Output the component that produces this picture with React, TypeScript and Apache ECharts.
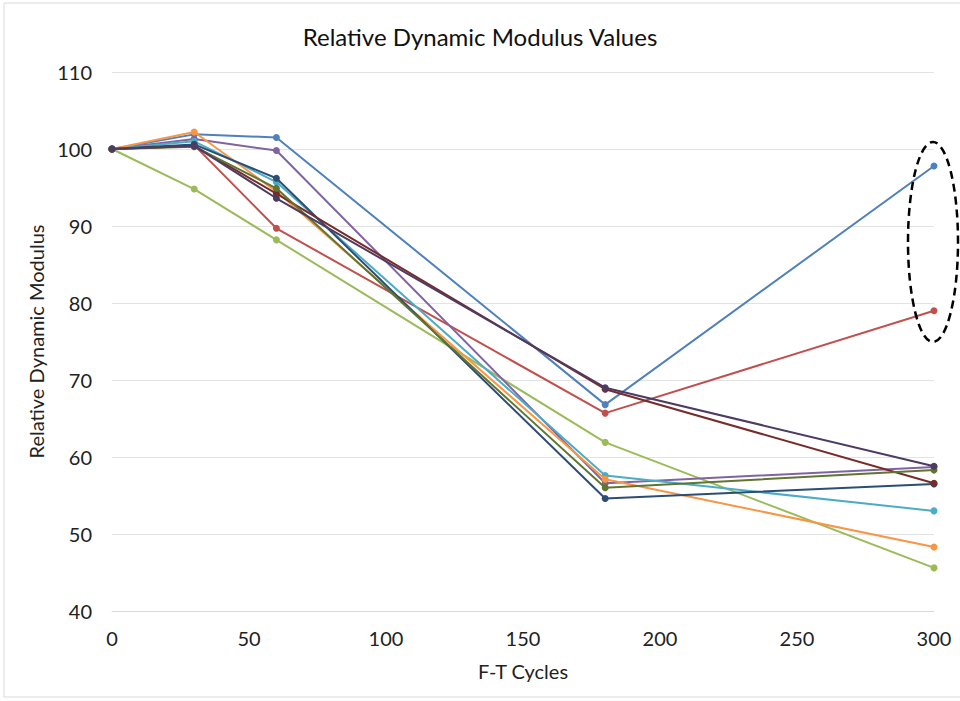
import React, { useEffect, useRef } from "react";
import * as echarts from "echarts";

const cycles = [0, 30, 60, 180, 300];
const seriesNames = ["S1", "S2", "S3", "S4", "S5", "S6", "S7", "S8", "S9", "S10"];
const blue = [100, 101.9, 101.5, 66.8, 97.8];
const red = [100, 100.5, 89.7, 65.7, 79.0];
const green = [100, 94.8, 88.2, 61.9, 45.6];
const purple = [100, 101.3, 99.8, 56.6, 58.7];
const aqua = [100, 101.0, 95.7, 57.6, 53.0];
const orange = [100, 102.2, 94.5, 57.1, 48.3];
const darkBlue = [100, 100.6, 96.2, 54.6, 56.5];
const darkRed = [100, 100.4, 94.2, 68.8, 56.6];
const darkGreen = [100, 100.3, 94.9, 56.0, 58.3];
const darkPurple = [100, 100.4, 93.6, 69.0, 58.8];
const allValues = [blue, red, green, purple, aqua, orange, darkBlue, darkRed, darkGreen, darkPurple];
const colors = ["#4F81BD", "#C0504D", "#9BBB59", "#8064A2", "#4BACC6", "#F79646", "#2C4D75", "#772C2A", "#5F7530", "#4D3B62"];

const FONT = "Lato, 'Open Sans', sans-serif";

export default function App() {
  const ref = useRef<HTMLDivElement>(null);
  useEffect(() => {
    if (!ref.current) return;
    const chart = echarts.init(ref.current, null, { renderer: "svg" });
    chart.setOption({
      animation: false,
      backgroundColor: "#ffffff",
      title: {
        text: "Relative Dynamic Modulus Values",
        left: "center",
        top: 19,
        textStyle: { fontFamily: FONT, fontSize: 24, fontWeight: "normal", color: "#111" },
      },
      grid: { left: 112, right: 26, top: 72, bottom: 90 },
      xAxis: {
        type: "value",
        min: 0,
        max: 300,
        interval: 50,
        name: "F-T Cycles",
        nameLocation: "middle",
        nameGap: 50,
        nameTextStyle: { fontFamily: FONT, fontSize: 20, color: "#222" },
        axisLine: { show: true, lineStyle: { color: "#d9d9d9", width: 1 } },
        axisTick: { show: false },
        splitLine: { show: false },
        axisLabel: { fontFamily: FONT, fontSize: 20, color: "#222", margin: 17 },
      },
      yAxis: {
        type: "value",
        min: 40,
        max: 110,
        interval: 10,
        name: "Relative Dynamic Modulus",
        nameLocation: "middle",
        nameGap: 62,
        nameTextStyle: { fontFamily: FONT, fontSize: 20, color: "#222" },
        axisLine: { show: false },
        axisTick: { show: false },
        splitLine: { lineStyle: { color: "#e3e3e3", width: 1 } },
        axisLabel: { fontFamily: FONT, fontSize: 20, color: "#222", margin: 20 },
      },
      series: allValues.map((vals, i) => ({
        name: seriesNames[i],
        type: "line",
        data: cycles.map((c, j) => [c, vals[j]]),
        symbol: "circle",
        symbolSize: 7,
        showSymbol: true,
        lineStyle: { color: colors[i], width: 2 },
        itemStyle: { color: colors[i] },
        z: 2 + i,
      })),
      graphic: [
        {
          type: "rect",
          shape: { x: 4, y: 3, width: 970, height: 694 },
          style: { fill: "none", stroke: "#d9d9d9", lineWidth: 1 },
          silent: true,
        },
        {
          type: "ellipse",
          shape: { cx: 933, cy: 242, rx: 25, ry: 100 },
          style: { fill: "none", stroke: "#000", lineWidth: 2.5, lineDash: [8, 5] },
          z: 100,
        },
      ],
    });
    return () => chart.dispose();
  }, []);
  return (
    <div
      ref={ref}
      style={{ position: "fixed", left: 0, top: 0, width: 960, height: 701 }}
    />
  );
}
